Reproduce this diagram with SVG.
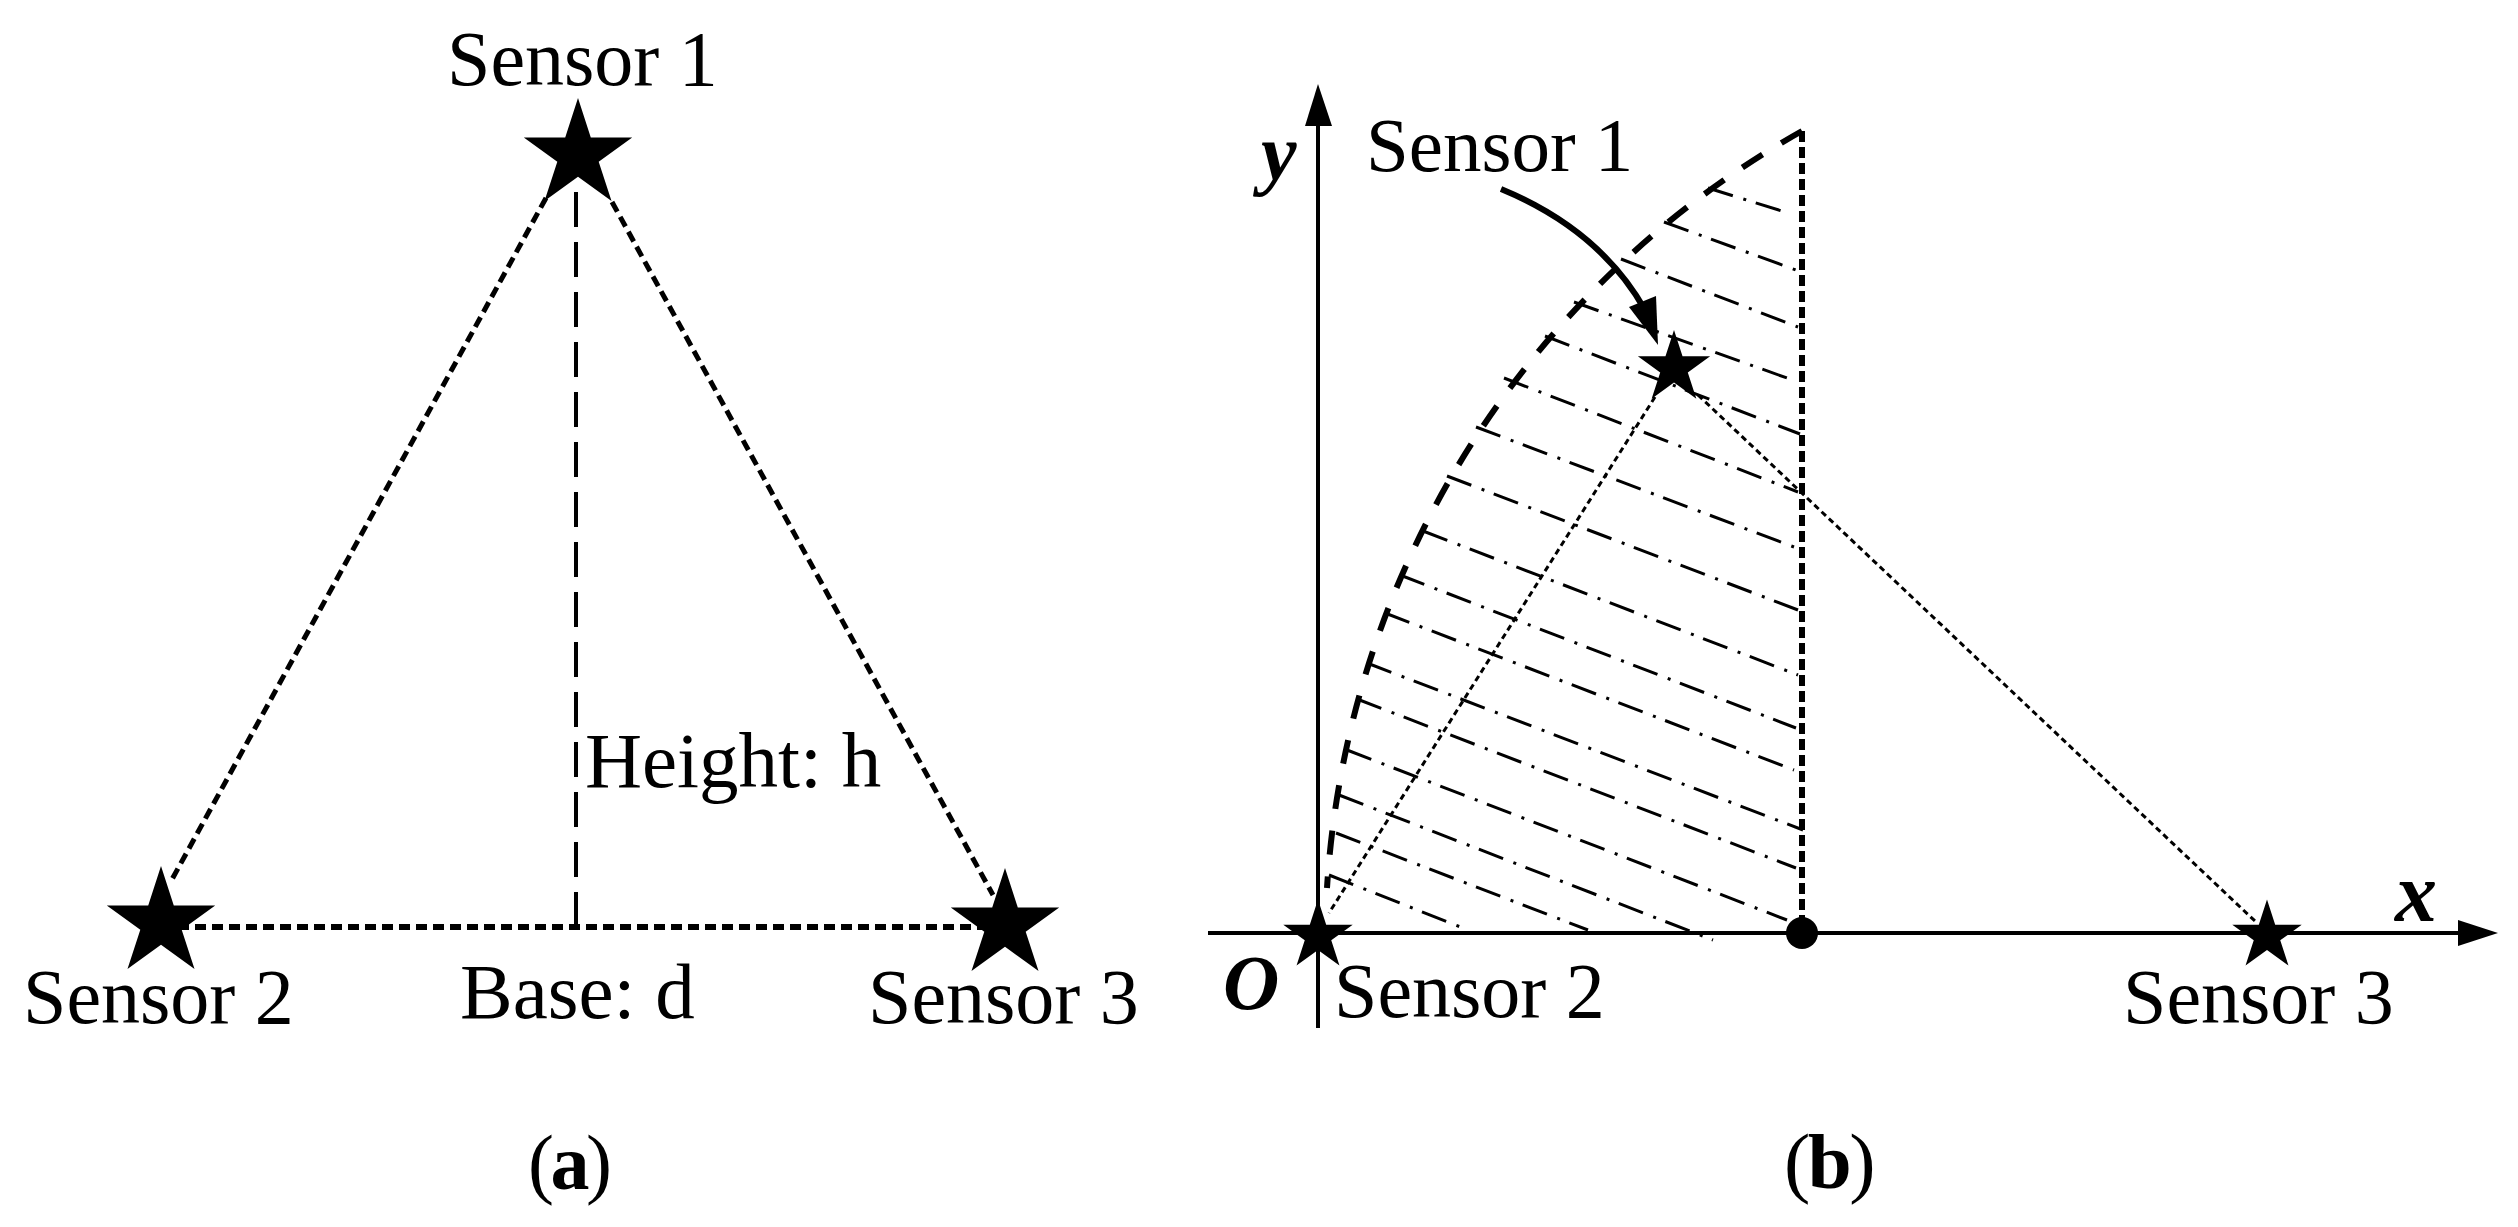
<svg xmlns="http://www.w3.org/2000/svg" xmlns:xlink="http://www.w3.org/1999/xlink" width="2518" height="1227" viewBox="0 0 2518 1227">
<style>
text{font-family:"Liberation Serif","Times New Roman",serif;font-size:78px;fill:#000}
.ax{font-weight:bold;font-style:italic;font-size:84px}
.side{fill:none;stroke:#000;stroke-width:5;stroke-dasharray:11 6}
.base{fill:none;stroke:#000;stroke-width:6;stroke-dasharray:11 6}
.height{fill:none;stroke:#000;stroke-width:4;stroke-dasharray:35 15}
.axis{fill:none;stroke:#000;stroke-width:4}
.arc{fill:none;stroke:#000;stroke-width:6;stroke-dasharray:24 22}
.vert{fill:none;stroke:#000;stroke-width:6;stroke-dasharray:11 5}
.hatch{fill:none;stroke:#000;stroke-width:3;stroke-dasharray:26 11 3 10}
.thin{fill:none;stroke:#000;stroke-width:3;stroke-dasharray:6 4}
</style>
<defs>
<polygon id="star" fill="#000" points="0,-1 .2245,-.309 .951,-.309 .363,.118 .588,.809 0,.382 -.588,.809 -.363,.118 -.951,-.309 -.2245,-.309"/>
</defs>
<rect width="2518" height="1227" fill="#fff"/>
<g id="connectors">
<line class="side" x1="546" y1="198" x2="170" y2="883"/>
<line class="side" x1="612" y1="202" x2="993" y2="895"/>
<line class="height" x1="576" y1="192" x2="576" y2="927"/>
<line class="base" x1="161" y1="927" x2="1005" y2="927"/>
<line class="axis" x1="1318" y1="1028" x2="1318" y2="120"/>
<polygon points="1318,84 1305,126 1332,126" fill="#000"/>
<line class="axis" x1="1208" y1="933" x2="2465" y2="933"/>
<polygon points="2498,933 2458,920 2458,946" fill="#000"/>
<path class="arc" d="M1802 131 A935 935 0 0 0 1327 888"/>
<line class="vert" x1="1802" y1="131" x2="1802" y2="930"/>
<path id="hatching" class="hatch" d="M1708 188L1785 212M1664 222L1796 270M1621 259L1798 327M1574 302L1787 378M1545 336L1800 434M1504 378L1798 492M1476 427L1794 547M1447 476L1798 610M1423 531L1798 675M1400 575L1796 728M1385 613L1794 770M1367 663L1803 830M1357 699L1796 868M1347 750L1787 920M1339 795L1713 940M1336 833L1588 930M1329 875L1468 930"/>
<line class="thin" x1="1655" y1="397" x2="1329" y2="913"/>
<line class="thin" x1="1698" y1="395" x2="2256" y2="922"/>
<path d="M1501 189Q1600 230 1645 310" fill="none" stroke="#000" stroke-width="6"/>
<polygon points="1658,345 1629,307 1656,296" fill="#000"/>
</g>
<g id="panel-a-sensor-1"><use xlink:href="#star" href="#star" transform="translate(578 155) scale(57)"/><text x="447" y="85">Sensor 1</text></g>
<g id="panel-a-sensor-2"><use xlink:href="#star" href="#star" transform="translate(161 923) scale(57)"/><text x="23" y="1023">Sensor 2</text></g>
<g id="panel-a-sensor-3"><use xlink:href="#star" href="#star" transform="translate(1005 925) scale(57)"/><text x="868" y="1023">Sensor 3</text></g>
<g id="panel-a-labels"><text x="585" y="787" style="font-size:79px">Height: h</text><text x="460" y="1018" style="font-size:79px">Base: d</text><text x="528" y="1189" style="letter-spacing:-3.5px">(<tspan font-weight="bold">a</tspan>)</text></g>
<g id="panel-b-sensor-1"><use xlink:href="#star" href="#star" transform="translate(1674 368) scale(38)"/><text x="1366" y="171" style="font-size:77px">Sensor 1</text></g>
<g id="panel-b-sensor-2"><use xlink:href="#star" href="#star" transform="translate(1318 936) scale(36.5)"/><text x="1334" y="1017">Sensor 2</text></g>
<g id="panel-b-sensor-3"><use xlink:href="#star" href="#star" transform="translate(2267 936) scale(36.5)"/><text x="2123" y="1023">Sensor 3</text></g>
<g id="panel-b-point"><circle cx="1802" cy="933" r="16" fill="#000"/></g>
<g id="panel-b-labels"><text class="ax" x="1261" y="180" style="font-size:80px">y</text><text class="ax" x="2395" y="921">x</text><text class="ax" x="1223" y="1009" style="font-size:78px">O</text><text x="1784" y="1188" style="font-size:79px;letter-spacing:-2.5px">(<tspan font-weight="bold">b</tspan>)</text></g>
</svg>
